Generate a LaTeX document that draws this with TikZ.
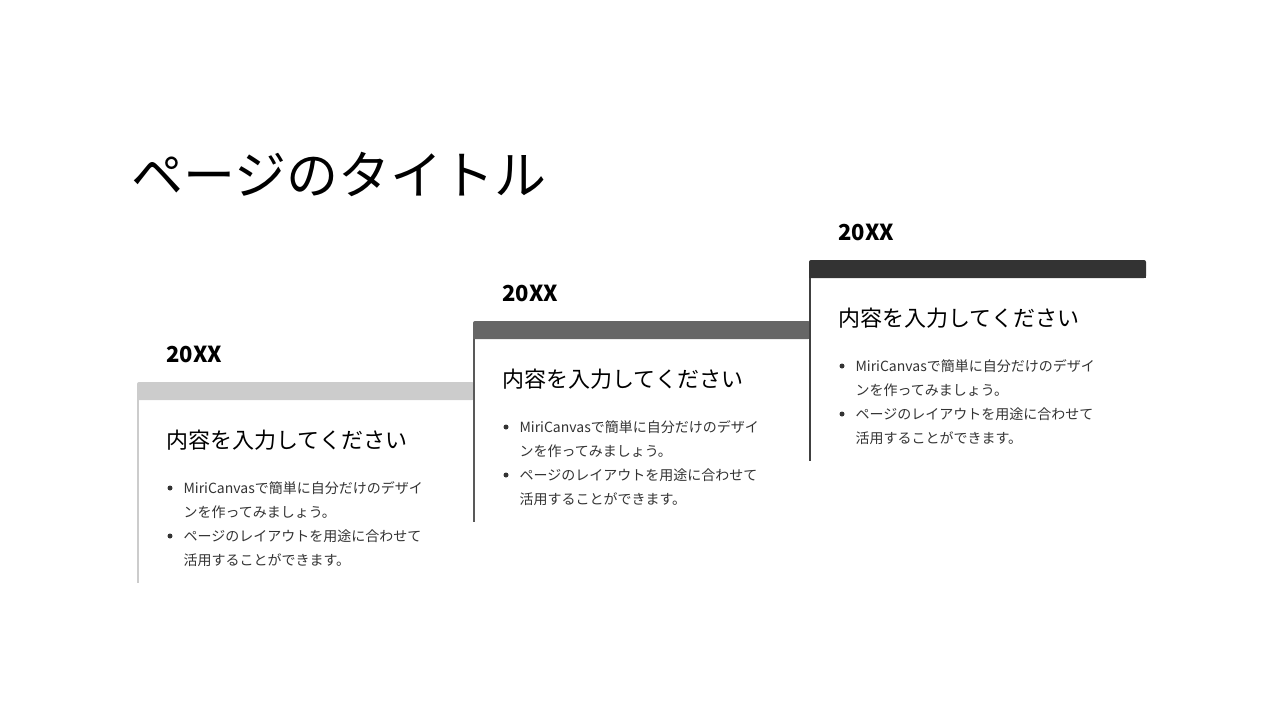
\documentclass[tikz,border=0pt]{standalone}
\usepackage{fontspec}
\setmainfont{Noto Sans CJK JP}
\newfontfamily\jpbold{Noto Sans CJK JP Bold}
\begin{document}
\begin{tikzpicture}[x=1pt,y=-1pt,
  yr/.style={anchor=west,font=\fontsize{22}{26}\selectfont\bfseries},
  hd/.style={anchor=west,font=\fontsize{22}{26}\selectfont},
  bl/.style={anchor=west,font=\fontsize{14}{17}\selectfont,text=black!80},
  dot/.style={circle,fill=black!80,inner sep=0pt,minimum size=5pt}]
\useasboundingbox (0,0) rectangle (1280,720);
\node[anchor=west,font=\fontsize{52}{60}\selectfont] (title) at (128,174) {ページのタイトル};
\foreach \i/\dx/\dy/\col/\lc in {1/0/0/black!20/black!20, 2/336/-61/black!60/black!65, 3/672/-122/black!80/black!75}{
  \begin{scope}[shift={(\dx,\dy)}]
    \fill[\col,rounded corners=2pt] (137,382) rectangle (474,400);
    \fill[\col] (137,392) rectangle (474,400);
    \draw[\lc,line width=1.5pt] (138,400) -- (138,583);
    \node[yr] (y\i) at (163,354) {20XX};
    \node[hd] (h\i) at (163,440) {内容を入力してください};
    \node[dot] (d\i a) at (170,488) {};
    \node[bl] (b\i a) at (180,488) {MiriCanvasで簡単に自分だけのデザイ};
    \node[bl] (c\i a) at (180,512) {ンを作ってみましょう。};
    \node[dot] (d\i b) at (170,536) {};
    \node[bl] (b\i b) at (180,536) {ページのレイアウトを用途に合わせて};
    \node[bl] (c\i b) at (180,560) {活用することができます。};
  \end{scope}}
\end{tikzpicture}
\end{document}
